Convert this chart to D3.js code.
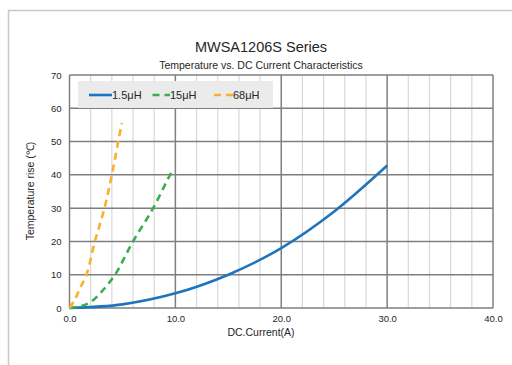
<!DOCTYPE html>
<html><head><meta charset="utf-8">
<script src="https://cdn.jsdelivr.net/npm/d3@7"></script>
<style>body{margin:0;background:#fff;} text{font-family:Arial,"Liberation Sans",sans-serif;fill:#262626;}</style>
</head><body>
<svg id="c" width="512" height="365"></svg>
<script>
const seriesNames = ["1.5μH", "15μH", "68μH"];
const s15uH_current = [0, 5, 10, 15, 20, 25, 30];
const s15uH_temp    = [0, 1.1, 4.4, 10.0, 18.0, 29.0, 42.8];
const s150uH_current = [0, 1, 2, 3, 4.3, 6.0, 7.9, 9.5, 9.77];
const s150uH_temp    = [0, 0.5, 1.8, 4.8, 10, 20, 30, 40, 41.4];
const s68uH_current = [0, 0.5, 1, 1.6, 2.4, 3.3, 4.0, 4.6, 4.95];
const s68uH_temp    = [0, 2.5, 6, 10, 20, 30, 40, 50, 55.6];
const xTicks = [0, 10, 20, 30, 40];
const yTicks = [0, 10, 20, 30, 40, 50, 60, 70];
const xMinor = [2,4,6,8,12,14,16,18,22,24,26,28,32,34,36,38];
const colors = ["#1f74c0", "#3aae4a", "#f8b12c"];

const svg = d3.select("#c");
svg.append("path").attr("d","M8.5,365 L8.5,10.5 L512,10.5").attr("fill","none").attr("stroke","#c8c8c8").attr("stroke-width",1.5);

const x = d3.scaleLinear().domain([0,40]).range([69.5,493]);
const y = d3.scaleLinear().domain([0,70]).range([308,75]);

const g = svg.append("g");
g.selectAll(".mx").data(xMinor).enter().append("line")
 .attr("x1",d=>x(d)).attr("x2",d=>x(d)).attr("y1",y(0)).attr("y2",y(70))
 .attr("stroke","#d8d8d8").attr("stroke-width",1.2);
g.selectAll(".gx").data(xTicks).enter().append("line")
 .attr("x1",d=>x(d)).attr("x2",d=>x(d)).attr("y1",y(0)).attr("y2",y(70))
 .attr("stroke","#7f7f7f").attr("stroke-width",1.5);
g.selectAll(".gy").data(yTicks).enter().append("line")
 .attr("x1",x(0)).attr("x2",x(40)).attr("y1",d=>y(d)).attr("y2",d=>y(d))
 .attr("stroke","#7f7f7f").attr("stroke-width",1.5);

const xAxis = svg.append("g").attr("transform",`translate(0,${y(0)})`)
 .call(d3.axisBottom(x).tickValues(xTicks).tickFormat(d3.format(".1f")).tickSize(0).tickPadding(7));
xAxis.select(".domain").remove();
xAxis.selectAll("text").attr("font-size",9.5).attr("fill","#333");
const yAxis = svg.append("g").attr("transform",`translate(${x(0)},0)`)
 .call(d3.axisLeft(y).tickValues(yTicks).tickSize(0).tickPadding(8));
yAxis.select(".domain").remove();
yAxis.selectAll("text").attr("font-size",9.5).attr("fill","#333");

svg.append("rect").attr("x",78).attr("y",81).attr("width",195).attr("height",27).attr("fill","#ebebeb");

const line = d3.line().x(d=>x(d[0])).y(d=>y(d[1])).curve(d3.curveCatmullRom.alpha(0.5));
const data = [
  d3.zip(s15uH_current, s15uH_temp),
  d3.zip(s150uH_current, s150uH_temp),
  d3.zip(s68uH_current, s68uH_temp)
];
data.forEach((d,i)=>{
  svg.append("path").datum(d).attr("d",line).attr("fill","none")
   .attr("stroke",colors[i]).attr("stroke-width",2.6)
   .attr("stroke-dasharray", i===0 ? null : "7,5");
});

const leg = [{x1:89,x2:112,tx:112},{x1:152.5,x2:170,tx:170},{x1:214,x2:233,tx:233}];
leg.forEach((l,i)=>{
  svg.append("line").attr("x1",l.x1).attr("x2",l.x2).attr("y1",95).attr("y2",95)
   .attr("stroke",colors[i]).attr("stroke-width",2.6).attr("stroke-dasharray", i===0?null:"7,5");
  svg.append("text").attr("x",l.tx).attr("y",99).attr("font-size",11).text(seriesNames[i]);
});

svg.append("text").attr("x",261).attr("y",52).attr("text-anchor","middle").attr("font-size",14.5).text("MWSA1206S Series");
svg.append("text").attr("x",261).attr("y",69).attr("text-anchor","middle").attr("font-size",10.5).text("Temperature vs. DC Current Characteristics");
svg.append("text").attr("x",261).attr("y",336).attr("text-anchor","middle").attr("font-size",10.5).text("DC.Current(A)");
svg.append("text").attr("transform","translate(34,191) rotate(-90)").attr("text-anchor","middle").attr("font-size",10.5).text("Temperature rise (℃)");
</script>
</body></html>
